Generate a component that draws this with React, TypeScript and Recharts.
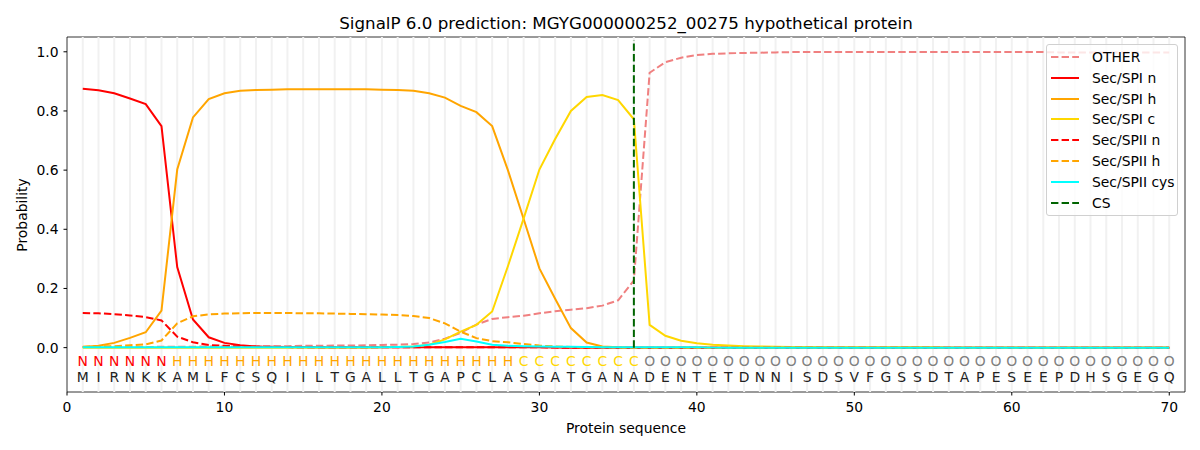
import React from "react";
import {
  ComposedChart,
  Line,
  Scatter,
  XAxis,
  YAxis,
  ReferenceLine,
  ReferenceArea,
} from "recharts";

// residues of the protein and the predicted region per residue
const residues = "MIRNKKAMLFCSQIILTGALLTGAPCLASGATGANADENTETDNNISDSVFGSSDTAPESEEPDHSGEGQ".split("");
const regions = ("NNNNNN" + "HHHHHHHHHHHHHHHHHHHHHH" + "CCCCCCCC" + "OOOOOOOOOOOOOOOOOOOOOOOOOOOOOOOOOO").split("");

const csPosition = 36;
const xTicks = [0, 10, 20, 30, 40, 50, 60, 70];
const yTicks = [0, 0.2, 0.4, 0.6, 0.8, 1.0];

const other = [
  0.002, 0.002, 0.002, 0.002, 0.002, 0.003, 0.003, 0.003, 0.004, 0.004,
  0.004, 0.005, 0.005, 0.005, 0.006, 0.006, 0.007, 0.007, 0.008, 0.009,
  0.010, 0.012, 0.017, 0.030, 0.050, 0.078, 0.097, 0.103, 0.108, 0.116,
  0.123, 0.128, 0.133, 0.142, 0.160, 0.227, 0.929, 0.965, 0.980, 0.989,
  0.993, 0.995, 0.996, 0.997, 0.998, 0.999, 0.999, 0.999, 0.999, 0.999,
  0.999, 0.999, 0.999, 0.999, 0.999, 0.999, 0.999, 0.999, 0.999, 0.999,
  0.999, 0.999, 0.998, 0.998, 0.998, 0.998, 0.998, 0.998, 0.998, 0.998,
];
const spiN = [
  0.875, 0.870, 0.860, 0.842, 0.823, 0.749, 0.272, 0.095, 0.035, 0.016,
  0.008, 0.004, 0.003, 0.002, 0.002, 0.001, 0.001, 0.001, 0.001, 0.001,
  0.001, 0.001, 0.001, 0.001, 0.001, 0.001, 0.001, 0.001, 0.001, 0.001,
  0, 0, 0, 0, 0, 0, 0, 0, 0, 0,
  0, 0, 0, 0, 0, 0, 0, 0, 0, 0,
  0, 0, 0, 0, 0, 0, 0, 0, 0, 0,
  0, 0, 0, 0, 0, 0, 0, 0, 0, 0,
];
const spiH = [
  0.002, 0.006, 0.016, 0.033, 0.052, 0.125, 0.602, 0.778, 0.840, 0.860,
  0.868, 0.871, 0.872, 0.873, 0.873, 0.873, 0.873, 0.873, 0.873, 0.872,
  0.871, 0.868, 0.860, 0.845, 0.817, 0.796, 0.749, 0.600, 0.435, 0.268,
  0.165, 0.066, 0.017, 0.004, 0.001, 0, 0, 0, 0, 0,
  0, 0, 0, 0, 0, 0, 0, 0, 0, 0,
  0, 0, 0, 0, 0, 0, 0, 0, 0, 0,
  0, 0, 0, 0, 0, 0, 0, 0, 0, 0,
];
const spiC = [
  0, 0, 0, 0, 0, 0, 0, 0, 0, 0,
  0, 0, 0, 0, 0, 0, 0, 0, 0, 0.001,
  0.002, 0.004, 0.010, 0.028, 0.054, 0.077, 0.122, 0.275, 0.437, 0.602,
  0.705, 0.800, 0.847, 0.854, 0.837, 0.772, 0.077, 0.040, 0.023, 0.015,
  0.010, 0.007, 0.005, 0.004, 0.003, 0.002, 0.002, 0.001, 0.001, 0.001,
  0.001, 0.001, 0.001, 0.001, 0.001, 0, 0, 0, 0, 0,
  0, 0, 0, 0, 0, 0, 0, 0, 0, 0,
];
const spiiN = [
  0.117, 0.116, 0.113, 0.109, 0.103, 0.092, 0.037, 0.018, 0.009, 0.006,
  0.004, 0.003, 0.002, 0.002, 0.001, 0.001, 0.001, 0.001, 0.001, 0.001,
  0.001, 0.001, 0.001, 0.001, 0.001, 0.001, 0.001, 0.001, 0.001, 0.001,
  0, 0, 0, 0, 0, 0, 0, 0, 0, 0,
  0, 0, 0, 0, 0, 0, 0, 0, 0, 0,
  0, 0, 0, 0, 0, 0, 0, 0, 0, 0,
  0, 0, 0, 0, 0, 0, 0, 0, 0, 0,
];
const spiiH = [
  0.003, 0.004, 0.005, 0.008, 0.011, 0.024, 0.082, 0.106, 0.112, 0.115,
  0.116, 0.117, 0.117, 0.117, 0.116, 0.116, 0.115, 0.114, 0.113, 0.112,
  0.110, 0.107, 0.100, 0.082, 0.054, 0.032, 0.022, 0.018, 0.012, 0.007,
  0.004, 0.002, 0.001, 0.001, 0, 0, 0, 0, 0, 0,
  0, 0, 0, 0, 0, 0, 0, 0, 0, 0,
  0, 0, 0, 0, 0, 0, 0, 0, 0, 0,
  0, 0, 0, 0, 0, 0, 0, 0, 0, 0,
];
const spiiCys = [
  0.001, 0.001, 0.001, 0.001, 0.001, 0.001, 0.001, 0.001, 0.001, 0.001,
  0.001, 0.001, 0.001, 0.001, 0.001, 0.001, 0.001, 0.001, 0.001, 0.001,
  0.002, 0.004, 0.010, 0.019, 0.030, 0.021, 0.010, 0.006, 0.005, 0.004,
  0.003, 0.003, 0.002, 0.001, 0.001, 0.001, 0.001, 0.001, 0.001, 0.001,
  0, 0, 0, 0, 0, 0, 0, 0, 0, 0,
  0, 0, 0, 0, 0, 0, 0, 0, 0, 0,
  0, 0, 0, 0, 0, 0, 0, 0, 0, 0,
];

const FONT = "'DejaVu Sans', sans-serif";
const DASH = "7.4 3.2";

const series = [
  { key: "other", name: "OTHER", color: "#f08080", dash: DASH },
  { key: "spiN", name: "Sec/SPI n", color: "#ff0000", dash: undefined },
  { key: "spiH", name: "Sec/SPI h", color: "#ffa500", dash: undefined },
  { key: "spiC", name: "Sec/SPI c", color: "#ffd700", dash: undefined },
  { key: "spiiN", name: "Sec/SPII n", color: "#ff0000", dash: DASH },
  { key: "spiiH", name: "Sec/SPII h", color: "#ffa500", dash: DASH },
  { key: "spiiCys", name: "Sec/SPII cys", color: "#00ffff", dash: undefined },
];

const regionColors: Record<string, string> = {
  N: "#ff0000",
  H: "#ffa500",
  C: "#ffd700",
  O: "#808080",
};

const positions = residues.map((_, i) => i + 1);

const rows = positions.map((pos, i) => ({
  pos,
  other: other[i],
  spiN: spiN[i],
  spiH: spiH[i],
  spiC: spiC[i],
  spiiN: spiiN[i],
  spiiH: spiiH[i],
  spiiCys: spiiCys[i],
}));

const REGION_ROW_Y = -0.045;
const RESIDUE_ROW_Y = -0.098;

const regionPoints = positions.map((pos, i) => ({ pos, y: REGION_ROW_Y, label: regions[i] }));
const residuePoints = positions.map((pos, i) => ({ pos, y: RESIDUE_ROW_Y, label: residues[i] }));

const Letter = (colored: boolean) => (props: any) => {
  const { cx, cy, payload } = props;
  return (
    <text
      x={cx}
      y={cy}
      textAnchor="middle"
      dominantBaseline="central"
      fontSize={13.9}
      fontFamily={FONT}
      fill={colored ? regionColors[payload.label] : "#222222"}
    >
      {payload.label}
    </text>
  );
};

const tickStyle = { fontSize: 13.9, fill: "#000", fontFamily: FONT };

const LegendBox = () => (
  <div
    style={{
      position: "absolute",
      left: 1046,
      top: 44,
      width: 132,
      height: 172,
      boxSizing: "border-box",
      border: "1px solid #d0d0d0",
      borderRadius: 3,
      background: "rgba(255,255,255,0.8)",
      fontFamily: FONT,
      fontSize: 13.9,
    }}
  >
    {[...series, { key: "cs", name: "CS", color: "#006400", dash: DASH }].map((s, i) => (
      <div
        key={s.key}
        style={{ position: "absolute", left: 4, top: 1.7 + i * 20.9, height: 20, display: "flex", alignItems: "center" }}
      >
        <svg width={29} height={20}>
          <line x1={0} y1={10} x2={28} y2={10} stroke={s.color} strokeWidth={2} strokeDasharray={s.dash} />
        </svg>
        <span style={{ marginLeft: 12, lineHeight: "20px", whiteSpace: "nowrap" }}>{s.name}</span>
      </div>
    ))}
  </div>
);

export default function App() {
  return (
    <div style={{ position: "absolute", left: 0, top: 0, width: 1200, height: 450, background: "#fff", fontFamily: FONT }}>
      <div
        style={{
          position: "absolute",
          left: 67,
          width: 1118,
          top: 13,
          lineHeight: "20px",
          textAlign: "center",
          fontSize: 16.7,
        }}
      >
        SignalP 6.0 prediction: MGYG000000252_00275 hypothetical protein
      </div>
      <ComposedChart
        width={1200}
        height={450}
        data={rows}
        margin={{ top: 37, right: 15, bottom: 8, left: 0 }}
        style={{ fontFamily: FONT }}
      >
        {positions.map((p) => (
          <ReferenceLine key={p} x={p} stroke="#f1f1f1" strokeWidth={2} />
        ))}
        <XAxis
          dataKey="pos"
          type="number"
          domain={[0, 71]}
          ticks={xTicks}
          allowDataOverflow
          height={50}
          tickSize={3.5}
          tickMargin={7}
          axisLine={false}
          tickLine={{ stroke: "#000" }}
          tick={tickStyle}
        />
        <YAxis
          type="number"
          domain={[-0.15, 1.05]}
          ticks={yTicks}
          allowDataOverflow
          width={67}
          tickSize={3.5}
          tickMargin={5}
          axisLine={false}
          tickLine={{ stroke: "#000" }}
          tick={tickStyle}
          tickFormatter={(v: number) => v.toFixed(1)}
        />
        {series.map((s) => (
          <Line
            key={s.key}
            type="linear"
            dataKey={s.key}
            name={s.name}
            stroke={s.color}
            strokeWidth={2}
            strokeDasharray={s.dash}
            dot={false}
            activeDot={false}
            isAnimationActive={false}
          />
        ))}
        <ReferenceLine
          segment={[
            { x: csPosition, y: 0 },
            { x: csPosition, y: 1.04 },
          ]}
          stroke="#006400"
          strokeWidth={2}
          strokeDasharray={DASH}
        />
        <Scatter data={regionPoints} dataKey="y" shape={Letter(true)} isAnimationActive={false} />
        <Scatter data={residuePoints} dataKey="y" shape={Letter(false)} isAnimationActive={false} />
        <ReferenceArea x1={0} x2={71} y1={-0.15} y2={1.05} fill="none" stroke="#000" strokeWidth={0.8} fillOpacity={0} />
      </ComposedChart>
      <div
        style={{
          position: "absolute",
          left: 67,
          width: 1118,
          top: 418,
          lineHeight: "20px",
          textAlign: "center",
          fontSize: 13.9,
        }}
      >
        Protein sequence
      </div>
      <div
        style={{
          position: "absolute",
          left: 22 - 100,
          top: 215 - 10,
          width: 200,
          lineHeight: "20px",
          textAlign: "center",
          fontSize: 13.9,
          transform: "rotate(-90deg)",
        }}
      >
        Probability
      </div>
      <LegendBox />
    </div>
  );
}
